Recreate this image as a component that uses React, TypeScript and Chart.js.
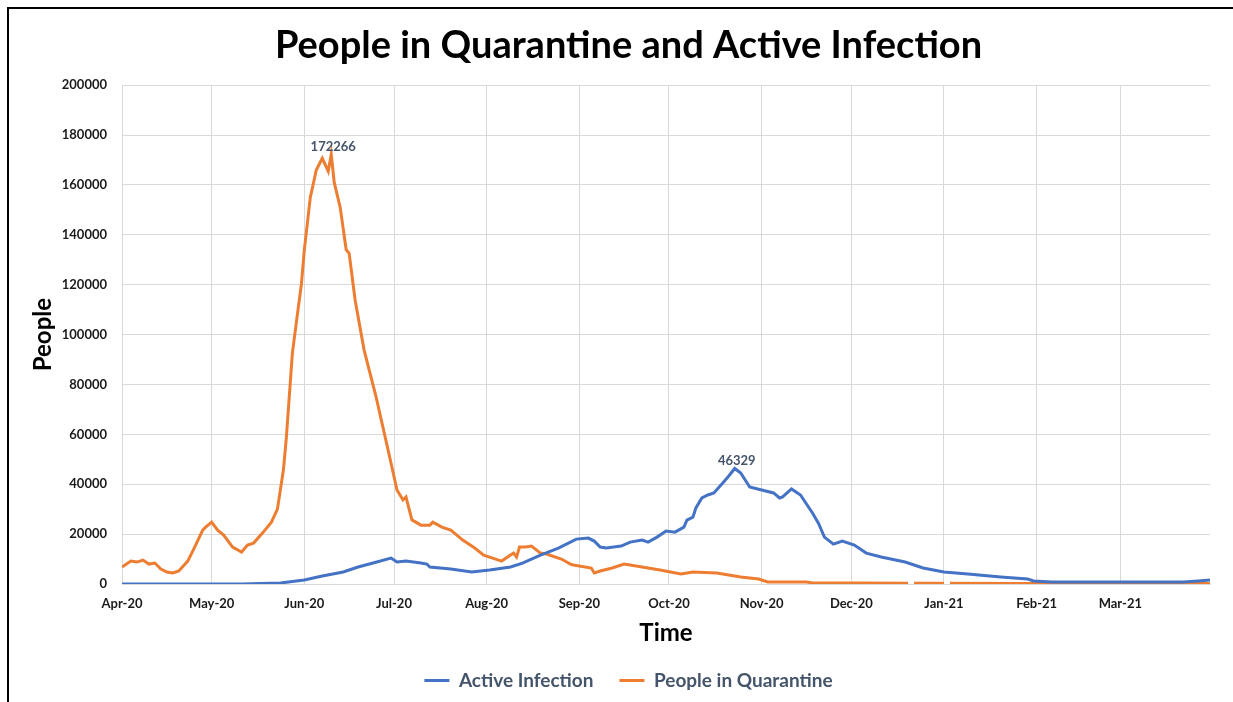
import { useEffect, useRef } from "react";
import { Chart, registerables } from "chart.js";

Chart.register(...registerables);

// Month gridlines: day offsets from 1 Apr 2020 and their labels
const monthTickDays = [0, 30, 61, 91, 122, 153, 183, 214, 244, 275, 306, 334];
const monthTickLabels = [
  "Apr-20", "May-20", "Jun-20", "Jul-20", "Aug-20", "Sep-20",
  "Oct-20", "Nov-20", "Dec-20", "Jan-21", "Feb-21", "Mar-21",
];
const lastDay = 364;

// Active Infection (day offset, people)
const activeDays = [
  0, 40, 53, 61, 67, 74, 79, 84, 90, 92, 95, 100, 102, 103, 110, 117, 123, 130,
  134, 140, 146, 152, 156, 158, 160, 162, 167, 170, 174, 176, 179, 182, 185, 188,
  189, 191, 192, 194, 196, 198, 201, 203, 205, 207, 210, 214, 218, 220, 221, 224,
  227, 231, 233, 235, 238, 241, 245, 249, 254, 262, 268, 275, 283, 294, 303, 305,
  311, 355, 360, 364,
];
const activeValues = [
  0, 0, 400, 1600, 3200, 4800, 6800, 8400, 10400, 8800, 9200, 8400, 8000, 6800,
  6000, 4800, 5600, 6800, 8400, 11600, 14400, 18000, 18400, 17200, 14800, 14400,
  15200, 16800, 17600, 16800, 18800, 21200, 20800, 22800, 25600, 26800, 30500,
  34500, 35700, 36500, 40500, 43300, 46329, 44500, 38900, 37700, 36500, 34500,
  34900, 38100, 35700, 28500, 24400, 18800, 16000, 17200, 15600, 12400, 10800,
  8800, 6400, 4800, 4000, 2800, 2000, 1200, 800, 800, 1200, 1600,
];

// People in Quarantine (day offset, people); null marks days with no report
const quarantineDays = [
  0, 2, 3, 5, 7, 9, 11, 13, 15, 17, 19, 22, 24, 27, 28, 30, 32, 34, 37, 40, 42,
  44, 47, 50, 52, 54, 55, 57, 59, 60, 61, 63, 65, 67, 69, 70, 71, 73, 75, 76, 78,
  81, 85, 90, 92, 94, 95, 97, 100, 103, 104, 107, 110, 114, 118, 121, 124, 127,
  130, 131, 132, 133, 135, 137, 140, 142, 147, 150, 151, 157, 158, 160, 164, 168,
  173, 180, 187, 191, 199, 207, 213, 216, 229, 231, 247, 263, 264, 265, 275, 276,
  277, 300, 364,
];
const quarantineValues = [
  6800, 8400, 9200, 8800, 9600, 8000, 8400, 6000, 4800, 4400, 5200, 9200, 14000,
  21600, 22800, 24800, 21600, 19600, 14800, 12800, 15600, 16400, 20400, 24800,
  30000, 45700, 58900, 92600, 111000, 120000, 134000, 155000, 166000, 170700,
  165500, 172266, 161000, 151000, 134000, 132600, 113800, 93800, 75000, 48500,
  37700, 33700, 34900, 25700, 23600, 23600, 24800, 22800, 21600, 17600, 14400,
  11600, 10400, 9200, 11600, 12400, 10800, 14800, 14800, 15200, 12400, 12000,
  10000, 8000, 7600, 6400, 4400, 5200, 6400, 8000, 7000, 5600, 4000, 4800, 4400,
  2800, 2000, 800, 800, 400, 400, 300, null, 300, 300, null, 300, 200, 200,
];

const yTicks = [0, 20000, 40000, 60000, 80000, 100000, 120000, 140000, 160000, 180000, 200000];

const BLUE = "#4472c4";
const ORANGE = "#ed7d31";
const LABEL_GREY = "#44546a";
const GRID = "#d9d9d9";
const FONT = "Lato, 'Open Sans', sans-serif";

const toPoints = (days: number[], values: (number | null)[]) =>
  days.map((d, i) => ({ x: d, y: values[i] }));

// Writes the maximum of each series just above its peak
const peakLabelPlugin = {
  id: "peakLabel",
  afterDatasetsDraw(chart: any) {
    const { ctx } = chart;
    chart.data.datasets.forEach((ds: any, di: number) => {
      let best = -1;
      let bestV = -Infinity;
      ds.data.forEach((p: any, i: number) => {
        if (p.y != null && p.y > bestV) {
          bestV = p.y;
          best = i;
        }
      });
      const el = chart.getDatasetMeta(di).data[best];
      if (!el) return;
      ctx.save();
      ctx.font = `bold 13px ${FONT}`;
      ctx.fillStyle = LABEL_GREY;
      ctx.textAlign = "center";
      ctx.textBaseline = "bottom";
      ctx.fillText(String(bestV), el.x + 2, el.y - 1);
      ctx.restore();
    });
  },
};

export default function App() {
  const canvasRef = useRef<HTMLCanvasElement | null>(null);

  useEffect(() => {
    const canvas = canvasRef.current;
    if (!canvas) return;
    const chart = new Chart(canvas, {
      type: "line",
      data: {
        datasets: [
          {
            label: "Active Infection",
            data: toPoints(activeDays, activeValues),
            borderColor: BLUE,
            backgroundColor: BLUE,
            borderWidth: 3,
            pointRadius: 0,
            tension: 0,
          },
          {
            label: "People in Quarantine",
            data: toPoints(quarantineDays, quarantineValues),
            borderColor: ORANGE,
            backgroundColor: ORANGE,
            borderWidth: 3,
            pointRadius: 0,
            tension: 0,
            spanGaps: false,
          },
        ],
      },
      options: {
        responsive: false,
        animation: false,
        parsing: false,
        normalized: true,
        layout: { padding: { left: 38, right: 23, top: 0, bottom: 0 } },
        plugins: {
          title: {
            display: true,
            text: "People in Quarantine and Active Infection",
            color: "#000",
            font: { family: FONT, size: 38, weight: "bold" },
            padding: { top: 14, bottom: 16.6 },
          },
          legend: {
            position: "bottom",
            labels: {
              color: LABEL_GREY,
              font: { family: FONT, size: 19, weight: "bold" },
              boxWidth: 25,
              boxHeight: 3,
              padding: 26,
              generateLabels: (c: any) =>
                Chart.defaults.plugins.legend.labels
                  .generateLabels(c)
                  .map((l: any) => ({ ...l, lineWidth: 0 })),
            },
          },
          tooltip: { enabled: false },
        },
        scales: {
          x: {
            type: "linear",
            min: 0,
            max: lastDay,
            afterBuildTicks: (scale: any) => {
              scale.ticks = monthTickDays.map((v) => ({ value: v }));
            },
            afterFit: (scale: any) => {
              scale.height = 61;
            },
            ticks: {
              autoSkip: false,
              maxRotation: 0,
              padding: 12,
              color: "#1a1a1a",
              font: { family: FONT, size: 13, weight: "bold" },
              callback: (v: any) => monthTickLabels[monthTickDays.indexOf(v)] ?? "",
            },
            grid: { color: GRID, drawTicks: false },
            border: { color: GRID },
            title: {
              display: true,
              text: "Time",
              color: "#000",
              font: { family: FONT, size: 24, weight: "bold" },
              padding: { top: 0, bottom: -2.4 },
            },
          },
          y: {
            min: 0,
            max: 200000,
            afterBuildTicks: (scale: any) => {
              scale.ticks = yTicks.map((v) => ({ value: v }));
            },
            afterFit: (scale: any) => {
              scale.width = 75;
            },
            ticks: {
              padding: 15,
              color: "#1a1a1a",
              font: { family: FONT, size: 13, weight: "bold" },
              callback: (v: any) => String(v),
            },
            grid: { color: GRID, drawTicks: false },
            border: { color: GRID },
            title: {
              display: true,
              text: "People",
              color: "#000",
              font: { family: FONT, size: 24, weight: "bold" },
              padding: { top: -18.5, bottom: 0 },
            },
          },
        },
      },
      plugins: [peakLabelPlugin],
    } as any);
    return () => chart.destroy();
  }, []);

  return (
    <div
      style={{
        position: "fixed",
        top: 7,
        left: 7,
        width: 1224,
        height: 700,
        borderTop: "2px solid #000",
        borderLeft: "2px solid #000",
        background: "#fff",
      }}
    >
      <canvas ref={canvasRef} width={1224} height={691} style={{ display: "block" }} />
    </div>
  );
}
